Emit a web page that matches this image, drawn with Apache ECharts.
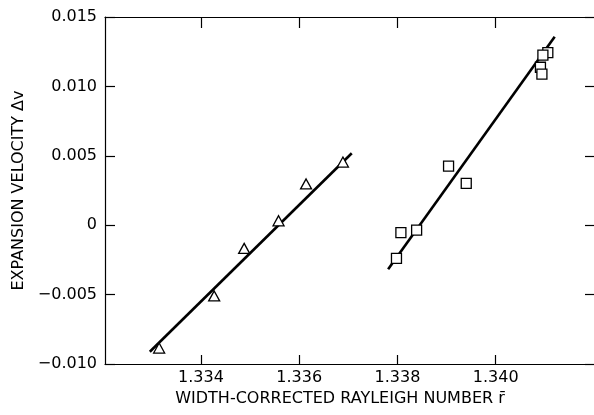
<!DOCTYPE html>
<html><head><meta charset="utf-8">
<script src="https://cdn.jsdelivr.net/npm/echarts@6/dist/echarts.min.js"></script>
<style>html,body{margin:0;padding:0;background:#fff}#c{width:594px;height:415px}</style>
</head><body><div id="c"></div>
<script>
// ---- data ----
const xTickValues = [1.334, 1.336, 1.338, 1.340];
const xMin = 1.332048, xMax = 1.342;
const yMin = -0.010, yMax = 0.015, yStep = 0.005;

const triangleX = [1.33315, 1.33427, 1.33488, 1.33558, 1.33614, 1.33689];
const triangleY = [-0.00885, -0.00510, -0.00167, 0.00032, 0.00297, 0.00455];

const squareX = [1.33798, 1.33807, 1.33839, 1.33904, 1.33940, 1.34106, 1.34096, 1.34091, 1.34094];
const squareY = [-0.00239, -0.00054, -0.00035, 0.00426, 0.00302, 0.01243, 0.01226, 0.01138, 0.01089];

const fit1X = [1.33296, 1.33707];
const fit1Y = [-0.00912, 0.00518];
const fit2X = [1.33781, 1.34120];
const fit2Y = [-0.00318, 0.01358];

const xName = 'WIDTH-CORRECTED RAYLEIGH NUMBER r\u0304';
const yName = 'EXPANSION VELOCITY \u0394v';

// ---- chart ----
const zip = (a, b) => a.map((v, i) => [v, b[i]]);
const FONT = '"DejaVu Sans", sans-serif';
const ink = '#000';

const chart = echarts.init(document.getElementById('c'), null, {renderer: 'canvas'});
chart.setOption({
  animation: false,
  backgroundColor: '#fff',
  grid: {left: 105, top: 17, width: 489, height: 347, containLabel: false, outerBoundsMode: 'none'},
  xAxis: [{
    type: 'value', min: xMin, max: xMax, position: 'bottom',
    axisLine: {show: true, onZero: false, lineStyle: {color: ink, width: 1.2}},
    axisTick: {show: true, inside: true, length: 9, customValues: xTickValues, lineStyle: {color: ink, width: 1.2}},
    axisLabel: {show: true, customValues: xTickValues, margin: 6, color: ink, fontSize: 16, fontFamily: FONT,
      formatter: v => v.toFixed(3)},
    splitLine: {show: false},
    name: xName, nameLocation: 'middle', nameGap: 26,
    nameTextStyle: {color: ink, fontSize: 16, fontFamily: FONT, padding: [0, 19, 0, 0]}
  }, {
    type: 'value', min: xMin, max: xMax, position: 'top',
    axisLine: {show: true, onZero: false, lineStyle: {color: ink, width: 1.2}},
    axisTick: {show: true, inside: true, length: 11, customValues: xTickValues, lineStyle: {color: ink, width: 1.2}},
    axisLabel: {show: false}, splitLine: {show: false}
  }],
  yAxis: [{
    type: 'value', min: yMin, max: yMax, interval: yStep, position: 'left',
    axisLine: {show: true, onZero: false, lineStyle: {color: ink, width: 1.2}},
    axisTick: {show: true, inside: true, length: 10, lineStyle: {color: ink, width: 1.2}},
    axisLabel: {show: true, margin: 8, color: ink, fontSize: 16, fontFamily: FONT,
      formatter: v => Math.abs(v) < 1e-9 ? '0' : (v < 0 ? '\u2212' : '') + Math.abs(v).toFixed(3)},
    splitLine: {show: false},
    name: yName, nameLocation: 'middle', nameGap: 77,
    nameTextStyle: {color: ink, fontSize: 16, fontFamily: FONT}
  }, {
    type: 'value', min: yMin, max: yMax, interval: yStep, position: 'right',
    axisLine: {show: false},
    axisTick: {show: true, inside: true, length: 9, lineStyle: {color: ink, width: 1.2}},
    axisLabel: {show: false}, splitLine: {show: false}
  }],
  series: [{
    type: 'line', data: zip(fit1X, fit1Y), showSymbol: false, symbol: 'none', z: 2,
    lineStyle: {color: ink, width: 2.6}
  }, {
    type: 'line', data: zip(fit2X, fit2Y), showSymbol: false, symbol: 'none', z: 2,
    lineStyle: {color: ink, width: 2.6}
  }, {
    type: 'scatter', data: zip(triangleX, triangleY), symbol: 'triangle', symbolSize: [11, 10], z: 5,
    itemStyle: {color: '#fff', borderColor: ink, borderWidth: 1.3, opacity: 1}
  }, {
    type: 'scatter', data: zip(squareX, squareY), symbol: 'rect', symbolSize: [10, 10], z: 5,
    itemStyle: {color: '#fff', borderColor: ink, borderWidth: 1.3, opacity: 1}
  }]
});
</script></body></html>
